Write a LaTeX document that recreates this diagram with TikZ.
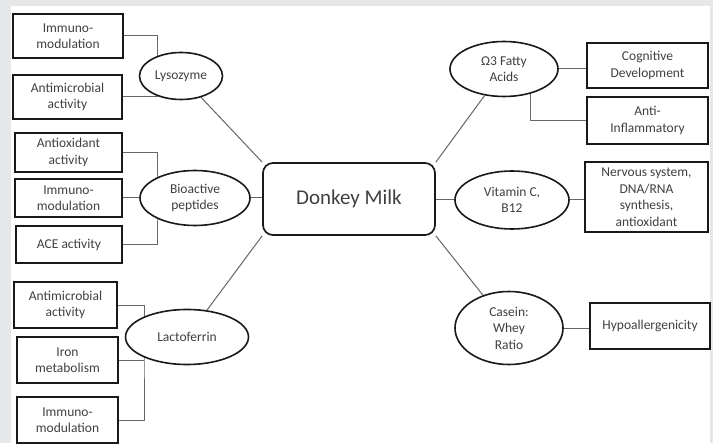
\documentclass[tikz,border=0pt]{standalone}
\usepackage{fontspec}
\setmainfont{Carlito}
\usetikzlibrary{shapes.geometric, backgrounds}
\definecolor{bggray}{HTML}{E6E7E9}
\definecolor{linegray}{HTML}{666666}
\definecolor{txtgray}{HTML}{404040}

\begin{document}
\begin{tikzpicture}[x=1pt,y=-1pt,
  box/.style={draw=black!90,line width=1.7pt,fill=white,inner sep=0pt,align=center,text=txtgray,font=\fontsize{13.5}{16.5}\selectfont},
  oval/.style={ellipse,draw=black!90,line width=1.6pt,fill=white,inner sep=0pt,align=center,text=txtgray,font=\fontsize{13.5}{16.5}\selectfont},
  link/.style={linegray,line width=1pt}]
\begin{pgfonlayer}{background}
\fill[bggray] (0,0) rectangle (713,443); %frame
\fill[white] (11,6) rectangle (710,443);
\end{pgfonlayer}

% centre
\node[box,rounded corners=10pt,minimum width=172,minimum height=72,font=\fontsize{21}{25}\selectfont] (dm) at (349,199) {Donkey Milk};

% left side
\node[oval,minimum width=83,minimum height=47] (lys) at (181,76) {Lysozyme};
\node[oval,minimum width=110,minimum height=55] (bio) at (195,198) {Bioactive\\peptides};
\node[oval,minimum width=123,minimum height=55] (lac) at (187,337) {Lactoferrin};

\node[box,minimum width=110,minimum height=44] (im1) at (68,36) {Immuno-\\modulation};
\node[box,minimum width=109,minimum height=44] (am1) at (67.5,97) {Antimicrobial\\activity};
\node[box,minimum width=107,minimum height=39] (ao) at (68.5,152.5) {Antioxidant\\activity};
\node[box,minimum width=107,minimum height=38] (im2) at (68.5,198) {Immuno-\\modulation};
\node[box,minimum width=106,minimum height=37] (ace) at (69,244.5) {ACE activity};
\node[box,minimum width=103,minimum height=46] (am2) at (65.5,305) {Antimicrobial\\activity};
\node[box,minimum width=101,minimum height=46] (iron) at (67.5,360) {Iron\\metabolism};
\node[box,minimum width=101,minimum height=46] (im3) at (67.5,420) {Immuno-\\modulation};

% right side
\node[oval,minimum width=108,minimum height=55] (om) at (504,69) {Ω3 Fatty\\Acids};
\node[oval,minimum width=114,minimum height=58] (vit) at (512,200) {Vitamin C,\\B12};
\node[oval,minimum width=108,minimum height=73] (cas) at (509,328) {Casein:\\Whey\\Ratio};

\node[box,minimum width=121,minimum height=45] (cog) at (647.5,65.5) {Cognitive\\Development};
\node[box,minimum width=121,minimum height=47] (anti) at (647.5,120.5) {Anti-\\Inflammatory};
\node[box,minimum width=123,minimum height=70] (nerv) at (646.5,197) {Nervous system,\\DNA/RNA\\synthesis,\\antioxidant};
\node[box,minimum width=120,minimum height=46] (hypo) at (650,326) {Hypoallergenicity};

% joints behind the ovals
\coordinate (lysj) at (157,76);
\coordinate (bioj) at (157,198);
\coordinate (lacj) at (144,337);
\coordinate (omj) at (530,69);

\begin{pgfonlayer}{background}
\draw[link] (lys) -- (dm.north west);
\draw[link] (bio.east) -- (bio.east -| dm.west);
\draw[link] (lac) -- (dm.south west);
\draw[link] (om) -- (dm.north east);
\draw[link] (vit.west -| dm.east) -- (vit.west);
\draw[link] (cas) -- (dm.south east);

\draw[link] (im1.east) -| (lysj) |- (am1.east);
\draw[link] (ao.east) -| (bioj) |- (ace.east);
\draw[link] (im2.east) -- (bio.west);
\draw[link] (am2.east) -| (lacj) |- (im3.east);
\draw[link] (iron.east) -- (iron.east -| lacj);

\draw[link] (om.east) -- (om.east -| cog.west);
\draw[link] (anti.west) -| (omj);
\draw[link] (vit.east) -- (vit.east -| nerv.west);
\draw[link] (cas.east) -- (cas.east -| hypo.west);
\end{pgfonlayer}
\end{tikzpicture}
\end{document}
